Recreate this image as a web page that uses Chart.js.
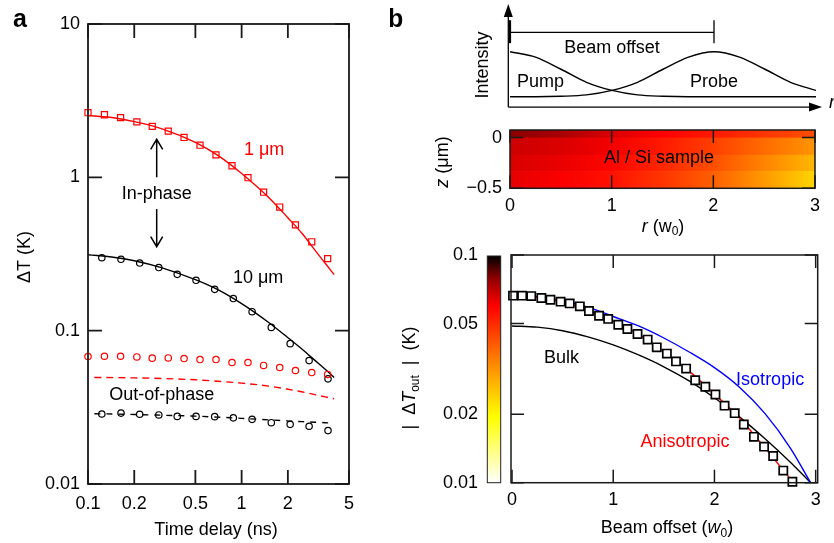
<!DOCTYPE html>
<html>
<head>
<meta charset="utf-8">
<script src="https://cdn.jsdelivr.net/npm/chart.js@4.4.1/dist/chart.umd.min.js"></script>
<style>
  body { margin: 0; background: #fff; width: 834px; height: 543px; overflow: hidden; position: relative; }
  canvas { position: absolute; }
</style>
</head>
<body>
<canvas id="cA" width="400" height="543" style="left:0;top:0"></canvas>
<canvas id="cB1" width="444" height="120" style="left:390px;top:0"></canvas>
<canvas id="cB2" width="434" height="120" style="left:400px;top:120px"></canvas>
<canvas id="cB3" width="444" height="303" style="left:390px;top:240px"></canvas>
<script>
// ---- panel a: time delay (ns) vs dT (K)
const tRed = [0.100, 0.128, 0.163, 0.208, 0.262, 0.333, 0.422, 0.536, 0.681, 0.866, 1.10, 1.39, 1.77, 2.24, 2.86, 3.63];
const inPhase1um = [2.64, 2.56, 2.45, 2.30, 2.15, 2.00, 1.82, 1.62, 1.40, 1.19, 0.994, 0.80, 0.64, 0.49, 0.38, 0.295];
const outPhase1um = [0.0678, 0.0681, 0.0681, 0.0674, 0.0662, 0.0664, 0.0658, 0.0648, 0.0648, 0.0620, 0.0620, 0.0593, 0.0575, 0.0550, 0.0533, 0.0518];
const tBlack = [0.123, 0.164, 0.217, 0.289, 0.381, 0.505, 0.668, 0.883, 1.17, 1.56, 2.07, 2.75, 3.65];
const inPhase10um = [0.299, 0.292, 0.276, 0.258, 0.233, 0.213, 0.186, 0.162, 0.133, 0.105, 0.0823, 0.0638, 0.0485];
const outPhase10um = [0.0286, 0.0290, 0.0285, 0.0282, 0.0276, 0.0276, 0.0275, 0.0270, 0.0264, 0.0251, 0.0245, 0.0238, 0.0223];

const tFit = [0.1, 0.15, 0.2, 0.3, 0.5, 0.7, 1, 1.5, 2, 2.5, 3, 3.5, 4];
const fitIn1um = [2.53, 2.44, 2.31, 2.08, 1.69, 1.39, 1.06, 0.74, 0.545, 0.425, 0.335, 0.275, 0.232];
const fitIn10um = [0.313, 0.300, 0.286, 0.258, 0.215, 0.185, 0.150, 0.113, 0.090, 0.075, 0.064, 0.056, 0.0495];
const tFitOut = [0.11, 0.15, 0.2, 0.3, 0.5, 0.7, 1, 1.5, 2, 2.5, 3, 3.5, 4];
const fitOut1um = [0.0495, 0.0494, 0.0492, 0.0488, 0.0478, 0.0468, 0.0455, 0.0435, 0.0415, 0.0398, 0.0383, 0.0370, 0.0360];
const fitOut10um = [0.0287, 0.0286, 0.0284, 0.0281, 0.0277, 0.0273, 0.0268, 0.0262, 0.0258, 0.0255, 0.0253, 0.0251, 0.0249];

const timeTicks = [0.1, 0.2, 0.5, 1, 2, 5];
const dtTicks = [0.01, 0.1, 1, 10];

// ---- panel b top: beam profiles
const rBeam = [0, 0.25, 0.5, 0.75, 1, 1.25, 1.5, 1.75, 2, 2.25, 2.5, 2.75, 3];
const pump = [1, 0.88, 0.61, 0.32, 0.14, 0.04, 0.01, 0, 0, 0, 0, 0, 0];
const probe = [0, 0, 0.01, 0.04, 0.14, 0.32, 0.61, 0.88, 1, 0.88, 0.61, 0.32, 0.14];

// ---- panel b middle: temperature map (K), rows are depth bands
const rHeat = [0, 0.5, 1, 1.5, 2, 2.5, 3];
const zBands = [[0.075, 0], [0, -0.17], [-0.17, -0.33], [-0.33, -0.5]];
const heat = [
  [0.080, 0.075, 0.066, 0.060, 0.054, 0.048, 0.043],
  [0.068, 0.066, 0.062, 0.054, 0.046, 0.038, 0.0315],
  [0.066, 0.0635, 0.059, 0.051, 0.043, 0.034, 0.027],
  [0.064, 0.061, 0.056, 0.048, 0.040, 0.031, 0.0236]
];
const rTicks = [0, 1, 2, 3];
const zTicks = [-0.5, 0];

// ---- panel b bottom: |dT_out| vs beam offset
const offsetData = [0.01, 0.10, 0.19, 0.29, 0.38, 0.48, 0.57, 0.67, 0.76, 0.86, 0.95, 1.05, 1.14, 1.24, 1.34, 1.43, 1.53, 1.62, 1.72, 1.81, 1.91, 2.01, 2.10, 2.20, 2.29, 2.39, 2.49, 2.58, 2.68, 2.77];
const tOutData = [0.0663, 0.0663, 0.0660, 0.0647, 0.0636, 0.0624, 0.0613, 0.0595, 0.0568, 0.0541, 0.0524, 0.0494, 0.0473, 0.0450, 0.0425, 0.0393, 0.0369, 0.0341, 0.0317, 0.0282, 0.0264, 0.0244, 0.0218, 0.0202, 0.0180, 0.0159, 0.0144, 0.0131, 0.0113, 0.0101];
const rAniso = [0, 0.25, 0.5, 0.75, 1, 1.25, 1.5, 1.75, 2, 2.25, 2.5, 2.75, 2.85];
const aniso = [0.0665, 0.0652, 0.0621, 0.0571, 0.0512, 0.0448, 0.0376, 0.0309, 0.0245, 0.0192, 0.0142, 0.0104, 0.0092];
const rModel = [0, 0.25, 0.5, 0.75, 1, 1.25, 1.5, 1.75, 2, 2.25, 2.5, 2.75, 2.95];
const iso = [0.0665, 0.0655, 0.0630, 0.0590, 0.0537, 0.0488, 0.0432, 0.0375, 0.0320, 0.0262, 0.0201, 0.0142, 0.0100];
const bulk = [0.0488, 0.0482, 0.0465, 0.0437, 0.0403, 0.0364, 0.0323, 0.0280, 0.0236, 0.0194, 0.0156, 0.0123, 0.0100];
const offTicks = [0, 1, 2, 3];
const tOutTicks = [0.01, 0.02, 0.05, 0.1];

const FONT = "'Liberation Sans', Arial, Helvetica, sans-serif";
const RED = '#ff0000';
const BLUE = '#0000ff';
Chart.defaults.font.family = FONT;
Chart.defaults.font.size = 18;
Chart.defaults.color = '#000';
Chart.defaults.animation = false;
Chart.defaults.events = [];
Chart.defaults.plugins.legend.display = false;
Chart.defaults.plugins.tooltip.enabled = false;

const pts = (xs, ys) => xs.map((x, i) => ({ x, y: ys[i] }));

function line(data, color, dash) {
  return { data, borderColor: color, borderWidth: 1.4, borderDash: dash || [], pointRadius: 0,
           cubicInterpolationMode: 'monotone' };
}
function marks(data, color, style, r, fill, bw) {
  return { data, showLine: false, pointStyle: style, pointRadius: r, pointBorderColor: color,
           pointBackgroundColor: fill || 'rgba(0,0,0,0)', pointBorderWidth: bw || 1.2, clip: false };
}

// axis with fixed ticks and fixed size; label overflow must not push the plot area
function axis(type, min, max, ticks, fmt, size, pad) {
  return {
    type, min, max,
    grid: { display: false, drawTicks: false },
    border: { display: false },
    afterBuildTicks: s => { s.ticks = ticks.map(v => ({ value: v })); },
    afterFit: s => {
      if (s.isHorizontal()) s.height = size; else s.width = size;
      s.paddingTop = 0; s.paddingBottom = 0;
    },
    ticks: { padding: pad, autoSkip: false, maxRotation: 0, callback: fmt }
  };
}

function framePlugin(len, lw) {
  return {
    id: 'frame',
    afterDatasetsDraw(c) {
      const ctx = c.ctx, a = c.chartArea, x = c.scales.x, y = c.scales.y;
      ctx.save();
      ctx.strokeStyle = '#1a1a1a';
      ctx.lineWidth = lw;
      ctx.beginPath();
      x.ticks.forEach(t => {
        const p = x.getPixelForValue(t.value);
        ctx.moveTo(p, a.top); ctx.lineTo(p, a.top + len);
        ctx.moveTo(p, a.bottom); ctx.lineTo(p, a.bottom - len);
      });
      y.ticks.forEach(t => {
        const p = y.getPixelForValue(t.value);
        ctx.moveTo(a.left, p); ctx.lineTo(a.left + len, p);
        ctx.moveTo(a.right, p); ctx.lineTo(a.right - len, p);
      });
      ctx.stroke();
      ctx.strokeRect(a.left, a.top, a.right - a.left, a.bottom - a.top);
      ctx.restore();
    }
  };
}

// text made of parts: [string, flags]  flags: i = italic, s = subscript, b = bold
function rich(ctx, parts, x, y, o) {
  o = o || {};
  const size = o.size || 18;
  const fontOf = p => {
    const f = p[1] || '';
    return (f.includes('i') ? 'italic ' : '') + (f.includes('b') ? 'bold ' : '') +
      (f.includes('s') ? Math.round(size * 0.68) : size) + 'px ' + FONT;
  };
  ctx.save();
  ctx.translate(x, y);
  if (o.rot) ctx.rotate(o.rot);
  ctx.fillStyle = o.color || '#000';
  ctx.textBaseline = o.base || 'middle';
  ctx.textAlign = 'left';
  let w = 0;
  parts.forEach(p => { ctx.font = fontOf(p); w += ctx.measureText(p[0]).width; });
  let cx = o.align === 'left' ? 0 : -w / 2;
  parts.forEach(p => {
    ctx.font = fontOf(p);
    ctx.fillText(p[0], cx, (p[1] || '').includes('s') ? size * 0.3 : 0);
    cx += ctx.measureText(p[0]).width;
  });
  ctx.restore();
}

function openArrow(ctx, x, y0, y1) {
  const d = y1 < y0 ? 1 : -1;
  ctx.beginPath();
  ctx.moveTo(x, y0); ctx.lineTo(x, y1);
  ctx.moveTo(x - 6, y1 + d * 10); ctx.lineTo(x, y1); ctx.lineTo(x + 6, y1 + d * 10);
  ctx.stroke();
}

// ---------------- panel a ----------------
new Chart(document.getElementById('cA'), {
  type: 'line',
  data: { datasets: [
    marks(pts(tRed, inPhase1um), RED, 'rect', 4.3),
    marks(pts(tRed, outPhase1um), RED, 'circle', 3.2),
    marks(pts(tBlack, inPhase10um), '#000', 'circle', 3.2),
    marks(pts(tBlack, outPhase10um), '#000', 'circle', 3.2),
    line(pts(tFit, fitIn1um), RED),
    line(pts(tFit, fitIn10um), '#000'),
    line(pts(tFitOut, fitOut1um), RED, [7, 5]),
    line(pts(tFitOut, fitOut10um), '#000', [6, 6])
  ] },
  options: {
    responsive: false,
    layout: { padding: { left: 0, top: 24, right: 51, bottom: 0 } },
    scales: {
      x: axis('logarithmic', 0.1, 5, timeTicks, v => String(v), 59, 9),
      y: axis('logarithmic', 0.01, 10, dtTicks, v => String(v), 88, 8)
    }
  },
  plugins: [framePlugin(14, 1.8), {
    id: 'notesA',
    afterDraw(c) {
      const ctx = c.ctx, x = c.scales.x, y = c.scales.y;
      rich(ctx, [['a', 'b']], 13, 27, { size: 25, align: 'left', base: 'alphabetic' });
      rich(ctx, [['1 μm']], x.getPixelForValue(1.40), y.getPixelForValue(1.50), { color: RED });
      rich(ctx, [['In-phase']], x.getPixelForValue(0.28), y.getPixelForValue(0.78));
      rich(ctx, [['10 μm']], x.getPixelForValue(1.28), y.getPixelForValue(0.221));
      rich(ctx, [['Out-of-phase']], x.getPixelForValue(0.302), y.getPixelForValue(0.0382));
      ctx.save();
      ctx.strokeStyle = '#000'; ctx.lineWidth = 1.5;
      const ax = x.getPixelForValue(0.28);
      openArrow(ctx, ax, y.getPixelForValue(1.0), y.getPixelForValue(1.77));
      openArrow(ctx, ax, y.getPixelForValue(0.622), y.getPixelForValue(0.353));
      ctx.restore();
      rich(ctx, [['Time delay (ns)']], 216, 530);
      rich(ctx, [['ΔT (K)']], 25, 257, { rot: -Math.PI / 2 });
    }
  }]
});

// ---------------- panel b top: beam schematic ----------------
new Chart(document.getElementById('cB1'), {
  type: 'line',
  data: { datasets: [
    line(pts(rBeam, pump), '#000'),
    line(pts(rBeam, probe), '#000')
  ] },
  options: {
    responsive: false,
    layout: { padding: { left: 120, top: 6.7, right: 18, bottom: 12.05 } },
    scales: {
      x: { type: 'linear', min: 0, max: 3, display: false },
      y: { type: 'linear', min: -0.25, max: 2, display: false }
    }
  },
  plugins: [{
    id: 'schem',
    afterDraw(c) {
      const ctx = c.ctx, x = c.scales.x, y = c.scales.y;
      const x0 = x.getPixelForValue(0), x2 = x.getPixelForValue(2);
      const ax = x0 - 1.7, ay = y.getPixelForValue(-0.23);
      const ex = x.getPixelForValue(3.0) + 6;
      ctx.save();
      ctx.strokeStyle = '#000'; ctx.fillStyle = '#000'; ctx.lineWidth = 1.3;
      ctx.beginPath();
      ctx.moveTo(ax, ay); ctx.lineTo(ax, 14);
      ctx.moveTo(ax, ay); ctx.lineTo(ex - 8, ay);
      ctx.stroke();
      ctx.beginPath();
      ctx.moveTo(ax, 4); ctx.lineTo(ax - 4.5, 17); ctx.lineTo(ax + 4.5, 17); ctx.closePath(); ctx.fill();
      ctx.beginPath();
      ctx.moveTo(ex, ay); ctx.lineTo(ex - 13, ay - 4.5); ctx.lineTo(ex - 13, ay + 4.5); ctx.closePath(); ctx.fill();
      // beam offset bracket
      const by = y.getPixelForValue(1.43), bt = y.getPixelForValue(1.70), bb = y.getPixelForValue(1.19);
      ctx.beginPath();
      ctx.moveTo(x0, by); ctx.lineTo(x2, by);
      ctx.moveTo(x2, bt); ctx.lineTo(x2, bb);
      ctx.stroke();
      ctx.lineWidth = 2.2;
      ctx.beginPath(); ctx.moveTo(x0, bt); ctx.lineTo(x0, bb); ctx.stroke();
      ctx.restore();
      rich(ctx, [['b', 'b']], -2, 27, { size: 25, align: 'left', base: 'alphabetic' });
      rich(ctx, [['Beam offset']], x.getPixelForValue(1), y.getPixelForValue(1.08));
      rich(ctx, [['Pump']], x.getPixelForValue(0.30), y.getPixelForValue(0.32));
      rich(ctx, [['Probe']], x.getPixelForValue(2.0), y.getPixelForValue(0.32));
      rich(ctx, [['r', 'i']], ex + 7, ay - 4, { align: 'left' });
      rich(ctx, [['Intensity']], 93, 65, { rot: -Math.PI / 2 });
    }
  }]
});

// colour map for |dT| on log scale 0.01 .. 0.1
const cmapF = [0, 0.29, 0.54, 0.78, 0.9, 1];
const cmapC = [[255, 255, 255], [255, 255, 0], [255, 128, 0], [255, 0, 0], [144, 0, 0], [0, 0, 0]];
function hot(v) {
  const f = Math.min(1, Math.max(0, Math.log10(v) + 2));
  let i = 0;
  while (i < cmapF.length - 2 && f > cmapF[i + 1]) i++;
  const t = (f - cmapF[i]) / (cmapF[i + 1] - cmapF[i]);
  const c = cmapC[i].map((a, k) => Math.round(a + (cmapC[i + 1][k] - a) * t));
  return 'rgb(' + c.join(',') + ')';
}

// ---------------- panel b middle: heat map ----------------
new Chart(document.getElementById('cB2'), {
  type: 'line',
  data: { datasets: [] },
  options: {
    responsive: false,
    layout: { padding: { left: 0, top: 10, right: 19, bottom: 0 } },
    scales: {
      x: axis('linear', 0, 3, rTicks, v => String(v), 51.7, 6.6),
      y: axis('linear', -0.5, 0.075, zTicks, v => (v === 0 ? '0' : '\u22120.5'), 110, 8)
    }
  },
  plugins: [{
    id: 'heat',
    beforeDatasetsDraw(c) {
      const ctx = c.ctx, x = c.scales.x, y = c.scales.y;
      const xl = x.getPixelForValue(0), xr = x.getPixelForValue(3);
      zBands.forEach((b, i) => {
        const g = ctx.createLinearGradient(xl, 0, xr, 0);
        rHeat.forEach((r, j) => g.addColorStop(r / 3, hot(heat[i][j])));
        ctx.fillStyle = g;
        const y0 = y.getPixelForValue(b[0]), y1 = y.getPixelForValue(b[1]);
        ctx.fillRect(xl, y0, xr - xl, y1 - y0 + (i < zBands.length - 1 ? 0.6 : 0));
      });
    },
    afterDraw(c) {
      const ctx = c.ctx, x = c.scales.x, y = c.scales.y;
      rich(ctx, [['Al / Si sample']], x.getPixelForValue(1.466), y.getPixelForValue(-0.204));
      rich(ctx, [['r', 'i'], [' (w'], ['0', 's'], [')']], 263, 106.7);
      rich(ctx, [['z', 'i'], [' (μm)']], 43, 42, { rot: -Math.PI / 2 });
    }
  }, framePlugin(13, 1.5)]
});

// ---------------- panel b bottom ----------------
new Chart(document.getElementById('cB3'), {
  type: 'line',
  data: { datasets: [
    marks(pts(offsetData, tOutData), '#000', 'rect', 5.8, '#fff', 1.7),
    line(pts(rAniso, aniso), RED),
    line(pts(rModel, iso), BLUE),
    line(pts(rModel, bulk), '#000')
  ] },
  options: {
    responsive: false,
    layout: { padding: { left: 0, top: 15, right: 16.3, bottom: 0 } },
    scales: {
      x: axis('linear', -0.01, 3.02, offTicks, v => String(v), 60.3, 6.5),
      y: axis('logarithmic', 0.01, 0.1, tOutTicks, v => String(v), 121, 33)
    }
  },
  plugins: [framePlugin(13, 1.5), {
    id: 'bar',
    afterDraw(c) {
      const ctx = c.ctx, x = c.scales.x, y = c.scales.y;
      const top = y.getPixelForValue(0.1) + 1, bot = y.getPixelForValue(0.01);
      const g = ctx.createLinearGradient(0, bot, 0, top);
      cmapF.forEach((f, i) => g.addColorStop(f, 'rgb(' + cmapC[i].join(',') + ')'));
      ctx.fillStyle = g;
      ctx.fillRect(97.3, top, 13.4, bot - top);
      ctx.strokeStyle = '#222'; ctx.lineWidth = 1;
      ctx.strokeRect(97.3, top, 13.4, bot - top);
      rich(ctx, [['Bulk']], x.getPixelForValue(0.49), y.getPixelForValue(0.0352));
      rich(ctx, [['Isotropic']], x.getPixelForValue(2.55), y.getPixelForValue(0.0282), { color: BLUE });
      rich(ctx, [['Anisotropic']], x.getPixelForValue(1.71), y.getPixelForValue(0.0151), { color: RED });
      rich(ctx, [['Beam offset ('], ['w', 'i'], ['0', 's'], [')']], 277, 288);
      rich(ctx, [['|  Δ'], ['T', 'i'], ['out', 's'], ['  |  (K)']], 20, 138, { rot: -Math.PI / 2 });
    }
  }]
});
</script>
</body>
</html>
